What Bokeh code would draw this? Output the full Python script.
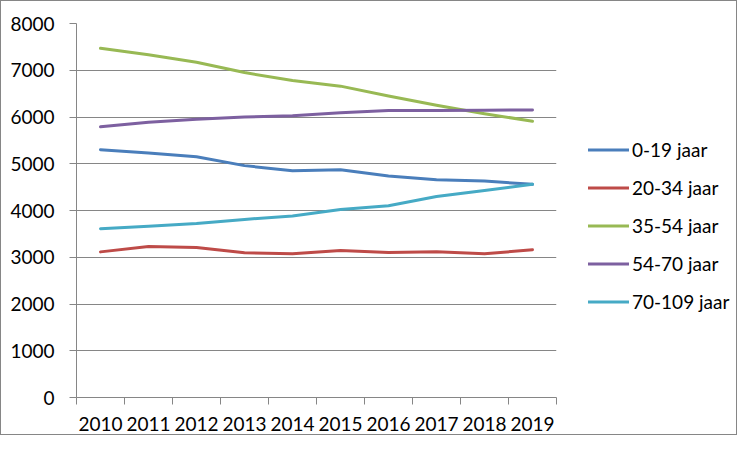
from bokeh.plotting import figure
from bokeh.models import Range1d, FixedTicker, Legend, LegendItem
from bokeh.layouts import row
from bokeh.embed import file_html
from bokeh.resources import INLINE

years = [2010, 2011, 2012, 2013, 2014, 2015, 2016, 2017, 2018, 2019]
y_0_19 = [5300, 5230, 5150, 4960, 4850, 4870, 4740, 4660, 4630, 4560]
y_20_34 = [3115, 3230, 3210, 3095, 3075, 3145, 3100, 3120, 3075, 3160]
y_35_54 = [7470, 7330, 7170, 6950, 6780, 6660, 6450, 6250, 6070, 5910]
y_54_70 = [5790, 5890, 5950, 6000, 6025, 6090, 6140, 6140, 6145, 6150]
y_70_109 = [3610, 3665, 3720, 3810, 3880, 4020, 4100, 4300, 4430, 4560]
series_names = ["0-19 jaar", "20-34 jaar", "35-54 jaar", "54-70 jaar", "70-109 jaar"]
series_values = [y_0_19, y_20_34, y_35_54, y_54_70, y_70_109]
colors = ["#4a7ebb", "#be4b48", "#98b954", "#7d60a0", "#46aac5"]
y_ticks = [0, 1000, 2000, 3000, 4000, 5000, 6000, 7000, 8000]

FONT = "Lato"
GRAY = "#868686"

p = figure(width=556, height=433, output_backend="svg", toolbar_location=None,
           x_range=Range1d(years[0] - 0.5, years[-1] + 0.5),
           y_range=Range1d(0, 8000),
           min_border_left=75, min_border_right=1, min_border_top=22, min_border_bottom=37)
p.outline_line_color = None
p.xgrid.grid_line_color = None
p.ygrid.grid_line_color = GRAY
p.ygrid.grid_line_width = 1

p.xaxis.ticker = FixedTicker(ticks=years, minor_ticks=[y - 0.5 for y in years] + [years[-1] + 0.5])
p.xaxis.major_tick_line_color = None
p.xaxis.major_tick_out = 7
p.xaxis.major_tick_in = 0
p.xaxis.minor_tick_line_color = GRAY
p.xaxis.minor_tick_out = 7
p.xaxis.minor_tick_in = 0
p.xaxis.major_label_standoff = 12
p.xaxis.axis_line_color = GRAY

p.yaxis.ticker = FixedTicker(ticks=y_ticks)
p.yaxis.minor_tick_line_color = None
p.yaxis.major_tick_line_color = GRAY
p.yaxis.major_tick_out = 7
p.yaxis.major_tick_in = 0
p.yaxis.major_label_standoff = 15
p.yaxis.axis_line_color = GRAY

for ax in (p.xaxis, p.yaxis):
    ax.major_label_text_font = FONT
    ax.major_label_text_font_size = "19px"
    ax.major_label_text_color = "black"

for name, vals, c in zip(series_names, series_values, colors):
    p.line(years, vals, line_color=c, line_width=3, line_join="round", line_cap="round")

# legend panel (separate figure to the right of the plot)
p2 = figure(width=179, height=433, output_backend="svg", toolbar_location=None,
            x_range=Range1d(0, 1), y_range=Range1d(0, 1),
            x_axis_location=None, y_axis_location=None,
            min_border_left=0, min_border_right=0, min_border_top=22, min_border_bottom=37)
p2.outline_line_color = None
p2.grid.grid_line_color = None
items = []
for name, vals, c in zip(series_names, series_values, colors):
    r = p2.line(years, vals, line_color=c, line_width=3, line_cap="round", visible=False)
    items.append(LegendItem(label=name, renderers=[r]))

legend = Legend(items=items, location=(31, 84), orientation="vertical",
                glyph_width=41, glyph_height=23, label_height=23, spacing=15,
                label_standoff=3, padding=0, margin=0,
                border_line_color=None, background_fill_alpha=0,
                label_text_font=FONT, label_text_font_size="19px", label_text_color="black")
p2.add_layout(legend)

layout = row(p, p2, spacing=0, styles={"border": "1px solid #868686"})

open("out.html", "w").write(file_html(layout, INLINE))
